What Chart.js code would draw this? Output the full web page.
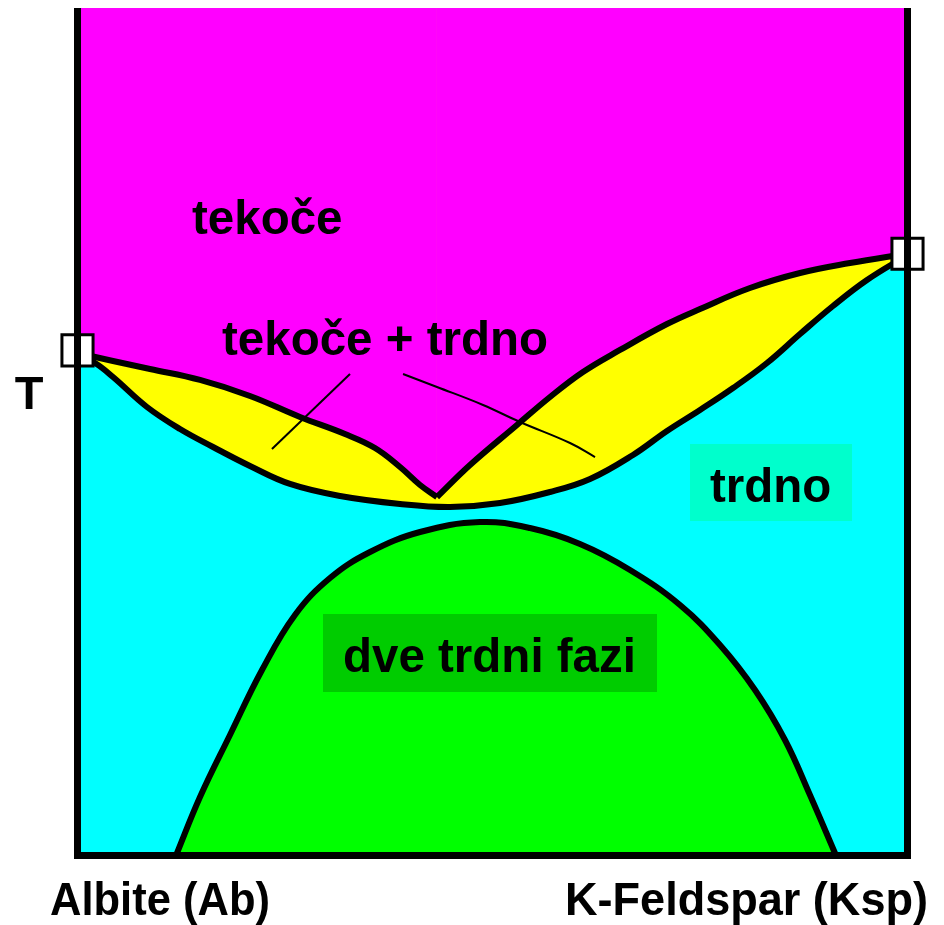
<!DOCTYPE html>
<html>
<head>
<meta charset="utf-8">
<script src="https://cdn.jsdelivr.net/npm/chart.js@4.4.1/dist/chart.umd.min.js"></script>
<style>
  html, body { margin: 0; padding: 0; background: #fff; }
  canvas { display: block; }
</style>
</head>
<body>
<canvas id="mycanvas" width="944" height="925"></canvas>
<script>
// x = composition (0 = Albite, 100 = K-Feldspar), y = relative temperature
// liquidus, Ab side and Ksp side of the minimum
var liqAbX = [0, 4.28, 8.73, 14.76, 20.78, 26.81, 32.23, 35.84, 38.86, 41.27, 43.31];
var liqAbT = [59.29, 58.35, 57.40, 56.11, 54.22, 51.74, 49.73, 48.08, 45.84, 43.72, 42.30];
var liqKspX = [43.31, 47.29, 52.95, 56.93, 60.90, 65.36, 71.02, 75.00, 81.02, 87.05, 93.07, 100];
var liqKspT = [42.30, 46.08, 50.80, 54.10, 57.05, 59.65, 62.71, 64.48, 66.96, 68.73, 69.91, 71.03];

var solidusX = [0, 2.11, 4.28, 8.37, 12.35, 16.33, 20.78, 25.60, 31.63, 38.86, 44.88, 50.90,
                56.93, 61.75, 66.93, 71.02, 75.00, 78.98, 83.07, 87.05, 91.02, 95.12, 100];
var solidusT = [59.06, 58.11, 56.46, 52.92, 50.32, 48.20, 45.96, 43.84, 42.42, 41.48, 41.12, 41.59,
                42.89, 44.42, 47.26, 50.09, 52.57, 55.16, 58.11, 61.53, 64.84, 67.91, 70.86];

var solvusX = [11.87, 14.76, 18.37, 22.23, 26.20, 30.42, 35.24, 41.27, 48.49,
               54.52, 60.54, 66.57, 72.59, 77.41, 81.63, 85.24, 88.25, 91.39];
var solvusT = [0, 6.90, 14.22, 21.89, 28.38, 32.74, 35.81, 38.17, 39.35,
               38.64, 36.76, 33.69, 29.56, 24.84, 19.53, 13.63, 7.14, 0];

var tieAX = [23.43, 32.83];
var tieAT = [47.96, 56.81];
var tieBX = [39.22, 43.31, 48.86, 53.31, 59.34, 62.35];
var tieBT = [56.81, 55.28, 53.16, 51.15, 48.67, 47.02];

// melting points of the pure end members
var meltX = [0, 100];
var meltT = [59.6, 71.0];

var regionLabels = ['tekoče', 'tekoče + trdno', 'trdno', 'dve trdni fazi'];
var axisLabels = ['Albite (Ab)', 'K-Feldspar (Ksp)', 'T'];

function pts(xs, ys) {
    var out = [];
    for (var i in xs) {
        out.push({x: xs[i], y: ys[i]});
    }
    return out;
}

var FONT = 'bold 47.5px "Liberation Sans", Arial, sans-serif';

var diagramPlugin = {
    id: 'diagram',
    beforeDraw: function(chart) {
        var ctx = chart.ctx, a = chart.chartArea;
        ctx.save();
        ctx.fillStyle = '#ffffff';
        ctx.fillRect(0, 0, chart.width, chart.height);
        ctx.fillStyle = '#00ffff';
        ctx.fillRect(a.left, a.top, a.right - a.left, a.bottom - a.top);
        ctx.restore();
    },
    afterDatasetsDraw: function(chart) {
        var ctx = chart.ctx, a = chart.chartArea;
        ctx.save();
        // label boxes
        ctx.fillStyle = '#00ffcc';
        ctx.fillRect(690, 444, 162, 77);
        ctx.fillStyle = '#00cc00';
        ctx.fillRect(323, 614, 334, 78);

        ctx.fillStyle = '#000';
        ctx.font = FONT;
        ctx.textBaseline = 'alphabetic';
        ctx.textAlign = 'left';
        ctx.fillText(regionLabels[0], 192, 234);
        ctx.fillText(regionLabels[1], 222, 355);
        ctx.fillText(regionLabels[2], 710, 502);
        ctx.fillText(regionLabels[3], 343, 672);

        // frame: left, right, bottom
        ctx.strokeStyle = '#000';
        ctx.lineWidth = 7;
        ctx.beginPath();
        ctx.moveTo(a.left, a.top);
        ctx.lineTo(a.left, a.bottom + 3.5);
        ctx.moveTo(a.right, a.top);
        ctx.lineTo(a.right, a.bottom + 3.5);
        ctx.moveTo(a.left - 3.5, a.bottom);
        ctx.lineTo(a.right + 3.5, a.bottom);
        ctx.stroke();

        // axis texts
        ctx.font = 'bold 47px "Liberation Sans", Arial, sans-serif';
        ctx.textAlign = 'left';
        ctx.fillText(axisLabels[0], 50, 915, 220);
        ctx.textAlign = 'right';
        ctx.fillText(axisLabels[1], 928, 915, 363);
        ctx.textAlign = 'center';
        ctx.fillText(axisLabels[2], 29, 409);
        ctx.restore();
    }
};

function curve(label, xs, ys, fill, colour) {
    return {
        label: label,
        data: pts(xs, ys),
        showLine: true,
        borderColor: '#000',
        borderWidth: 6,
        backgroundColor: colour,
        fill: fill,
        pointRadius: 0,
        tension: 0.4
    };
}

var ctx = document.getElementById('mycanvas');
var myChart = new Chart(ctx, {
    type: 'scatter',
    data: {
        datasets: [
            curve('solvus', solvusX, solvusT, 'start', '#00ff00'),
            {
                label: 'melting points',
                data: pts(meltX, meltT),
                showLine: false,
                pointStyle: 'rect',
                pointRadius: 22,
                pointBorderWidth: 3,
                pointBackgroundColor: '#fff',
                pointBorderColor: '#000',
                clip: false
            },
            curve('liquidus Ab', liqAbX, liqAbT, 'end', '#ff00ff'),
            curve('liquidus Ksp', liqKspX, liqKspT, 'end', '#ff00ff'),
            curve('solidus', solidusX, solidusT, 'end', '#ffff00'),
            {
                label: 'tie A',
                data: pts(tieAX, tieAT),
                showLine: true,
                borderColor: '#000',
                borderWidth: 2,
                pointRadius: 0,
                fill: false
            }, {
                label: 'tie B',
                data: pts(tieBX, tieBT),
                showLine: true,
                borderColor: '#000',
                borderWidth: 2,
                pointRadius: 0,
                fill: false,
                tension: 0.4
            }
        ]
    },
    options: {
        responsive: false,
        animation: false,
        layout: { autoPadding: false, padding: { left: 77.5, right: 36.5, top: 8, bottom: 69.5 } },
        plugins: {
            legend: { display: false },
            tooltip: { enabled: false },
            filler: { drawTime: 'beforeDatasetsDraw' }
        },
        scales: {
            x: { type: 'linear', min: 0, max: 100, display: false },
            y: { type: 'linear', min: 0, max: 100, display: false }
        }
    },
    plugins: [diagramPlugin]
});
</script>
</body>
</html>
